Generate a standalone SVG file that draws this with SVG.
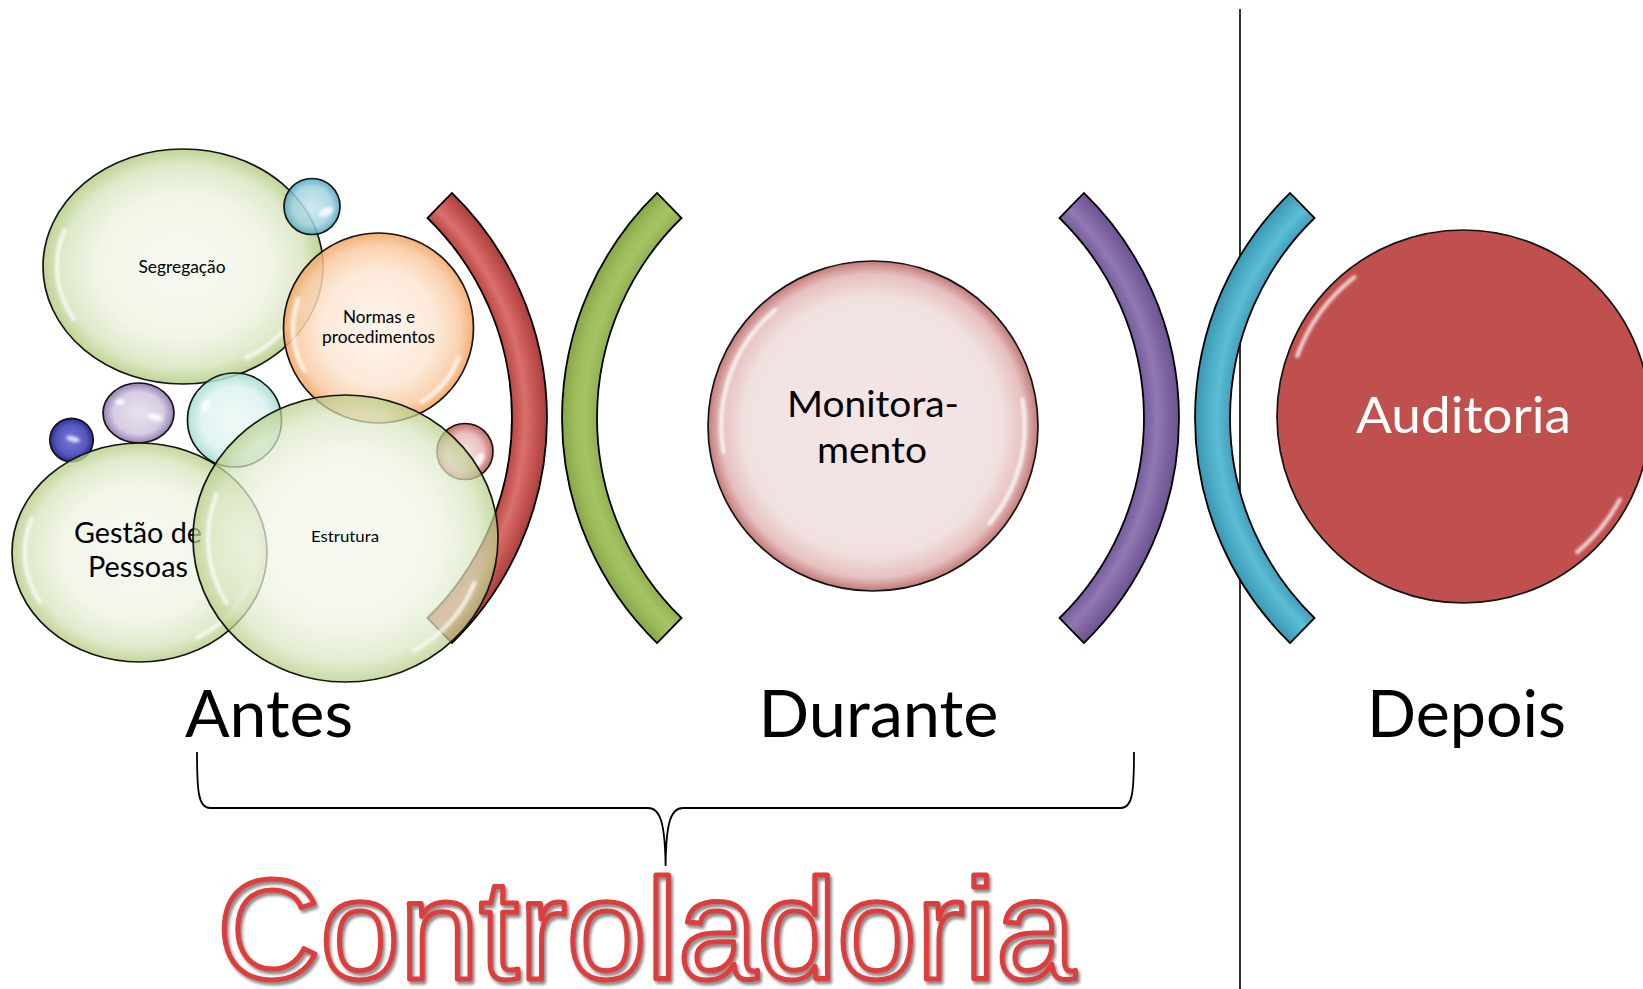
<svg xmlns="http://www.w3.org/2000/svg" width="1643" height="989" viewBox="0 0 1643 989">
<defs>
<style>
.bub{stroke:#141414;stroke-width:1.7}
.hl{fill:none;stroke:#fff;stroke-width:4;stroke-linecap:round;opacity:.8;filter:url(#blur)}
.spot{fill:#fff;opacity:.85;filter:url(#blur)}
.lbl{font-family:Lato,"Open Sans",sans-serif;fill:#000;text-anchor:middle}
.arc{stroke:#000;stroke-width:1.8;stroke-linejoin:miter}
.big{font-size:65px}
</style>
<filter id="blur" x="-50%" y="-50%" width="200%" height="200%"><feGaussianBlur stdDeviation="1.4"/></filter>
<filter id="shadow" x="-5%" y="-5%" width="110%" height="120%"><feDropShadow dx="2" dy="3" stdDeviation="1.6" flood-color="#555" flood-opacity=".7"/></filter>
<radialGradient id="gGreen" cx=".5" cy=".5" r=".5">
<stop offset="0" stop-color="#f4f8ee"/><stop offset=".62" stop-color="#eef4e3"/><stop offset=".86" stop-color="#d9e6c0"/><stop offset="1" stop-color="#b5cc82"/>
</radialGradient>
<radialGradient id="gOrange" cx=".5" cy=".5" r=".5">
<stop offset="0" stop-color="#fdf3ea"/><stop offset=".6" stop-color="#fde6d3"/><stop offset=".86" stop-color="#f9caa1"/><stop offset="1" stop-color="#f2a25f"/>
</radialGradient>
<radialGradient id="gPink" cx=".5" cy=".5" r=".5">
<stop offset="0" stop-color="#f4e6e6"/><stop offset=".78" stop-color="#f2e1e1"/><stop offset=".92" stop-color="#e6c0bf"/><stop offset="1" stop-color="#c27a77"/>
</radialGradient>
<radialGradient id="gTealB" cx=".5" cy=".5" r=".5">
<stop offset="0" stop-color="#c9e6ee"/><stop offset=".7" stop-color="#9fd1e0"/><stop offset="1" stop-color="#4ea6bf"/>
</radialGradient>
<radialGradient id="gPurple" cx=".5" cy=".5" r=".5">
<stop offset="0" stop-color="#e6e0ee"/><stop offset=".7" stop-color="#d2c7e0"/><stop offset="1" stop-color="#8c72ad"/>
</radialGradient>
<radialGradient id="gBlue" cx=".5" cy=".5" r=".5">
<stop offset="0" stop-color="#7a7ad8"/><stop offset=".7" stop-color="#5656c0"/><stop offset="1" stop-color="#2c2c8e"/>
</radialGradient>
<radialGradient id="gAqua" cx=".5" cy=".5" r=".5">
<stop offset="0" stop-color="#eef9f7"/><stop offset=".7" stop-color="#dcf3ef"/><stop offset="1" stop-color="#a2dccf"/>
</radialGradient>
<radialGradient id="gRedS" cx=".5" cy=".5" r=".5">
<stop offset="0" stop-color="#f3dfde"/><stop offset=".65" stop-color="#e4b4b2"/><stop offset="1" stop-color="#b9504c"/>
</radialGradient>
<radialGradient id="aRed" gradientUnits="userSpaceOnUse" cx="233" cy="418" r="314">
<stop offset=".885" stop-color="#b8433f"/><stop offset=".93" stop-color="#d8716d"/><stop offset=".965" stop-color="#c65551"/><stop offset="1" stop-color="#a8403c"/>
</radialGradient>
<radialGradient id="aGreen" gradientUnits="userSpaceOnUse" cx="876" cy="418" r="314">
<stop offset=".885" stop-color="#8fb04e"/><stop offset=".93" stop-color="#a6c465"/><stop offset=".965" stop-color="#9bbb59"/><stop offset="1" stop-color="#86a548"/>
</radialGradient>
<radialGradient id="aPurple" gradientUnits="userSpaceOnUse" cx="865" cy="418" r="314">
<stop offset=".885" stop-color="#73599a"/><stop offset=".93" stop-color="#9179b3"/><stop offset=".965" stop-color="#8064a2"/><stop offset="1" stop-color="#6c5390"/>
</radialGradient>
<radialGradient id="aTeal" gradientUnits="userSpaceOnUse" cx="1509" cy="418" r="314">
<stop offset=".885" stop-color="#3f9db8"/><stop offset=".93" stop-color="#5cbdd5"/><stop offset=".965" stop-color="#4bacc6"/><stop offset="1" stop-color="#3b96b0"/>
</radialGradient>
</defs>
<rect width="1643" height="989" fill="#fff"/>

<g id="connectors" fill="none" stroke="#000">
<line x1="1240" y1="9" x2="1240" y2="989" stroke-width="1.6"/>
<path d="M197,752 C197,790 198,808 210,808 L648,808 C660,808 665,822 665.6,866 C666,822 671,808 683,808 L1121,808 C1133,808 1134,790 1134,752" stroke-width="1.8"/>
</g>

<g id="arc-red"><path class="arc" fill="url(#aRed)" d="M451.9,192.9 A314,314 0 0 1 451.9,643.1 L427.5,618 A279,279 0 0 0 427.5,218 Z"/></g>
<g id="arc-green"><path class="arc" fill="url(#aGreen)" d="M657.1,192.9 A314,314 0 0 0 657.1,643.1 L681.5,618 A279,279 0 0 1 681.5,218 Z"/></g>
<g id="arc-purple"><path class="arc" fill="url(#aPurple)" d="M1083.9,192.9 A314,314 0 0 1 1083.9,643.1 L1059.5,618 A279,279 0 0 0 1059.5,218 Z"/></g>
<g id="arc-teal"><path class="arc" fill="url(#aTeal)" d="M1290.1,192.9 A314,314 0 0 0 1290.1,643.1 L1314.5,618 A279,279 0 0 1 1314.5,218 Z"/></g>

<g id="segregacao">
<ellipse class="bub" cx="183" cy="266.5" rx="140" ry="117.5" fill="url(#gGreen)" fill-opacity=".85"/>
<path class="hl" d="M64.6,230.3 A126,105.75 0 0 0 73.9,319.4"/>
<path class="hl" d="M301.4,302.7 A126,105.75 0 0 1 246,358.1"/>
<text class="lbl" x="182" y="273" font-size="16.7" textLength="87" lengthAdjust="spacingAndGlyphs">Segregação</text>
</g>
<g id="bubble-teal">
<circle class="bub" cx="312" cy="206.5" r="28" fill="url(#gTealB)" fill-opacity=".85"/>
<ellipse class="spot" cx="326" cy="212" rx="8" ry="4" transform="rotate(-25 326 212)"/>
</g>
<g id="normas">
<circle class="bub" cx="378.5" cy="328" r="95" fill="url(#gOrange)" fill-opacity=".85"/>
<path class="hl" d="M298.2,298.8 A85.5,85.5 0 0 0 304.5,370.8"/>
<path class="hl" d="M458.8,357.2 A85.5,85.5 0 0 1 421.3,402"/>
<text class="lbl" x="379" y="323" font-size="16.7" textLength="72" lengthAdjust="spacingAndGlyphs">Normas e</text>
<text class="lbl" x="378.5" y="343" font-size="16.7" textLength="113" lengthAdjust="spacingAndGlyphs">procedimentos</text>
</g>
<g id="bubble-purple">
<ellipse class="bub" cx="138.5" cy="413" rx="35.5" ry="30" fill="url(#gPurple)" fill-opacity=".9"/>
<ellipse class="spot" cx="155" cy="417" rx="8" ry="3.5" transform="rotate(15 155 417)"/>
<ellipse class="spot" cx="120" cy="402" rx="5" ry="3"/>
</g>
<g id="bubble-blue">
<circle class="bub" cx="71.5" cy="440" r="21.7" fill="url(#gBlue)"/>
<ellipse class="spot" cx="73" cy="439" rx="7" ry="2.5" transform="rotate(15 73 439)"/>
</g>
<g id="bubble-aqua">
<circle class="bub" cx="234.5" cy="420" r="47" fill="url(#gAqua)" fill-opacity=".85"/>
<ellipse class="spot" cx="206" cy="406" rx="4" ry="7" transform="rotate(25 206 406)"/>
</g>
<g id="bubble-red">
<circle class="bub" cx="465" cy="451.5" r="28" fill="url(#gRedS)" fill-opacity=".85"/>
<ellipse class="spot" cx="479" cy="460" rx="4" ry="8" transform="rotate(30 479 460)"/>
</g>
<g id="gestao">
<ellipse class="bub" cx="139.5" cy="552.5" rx="127.5" ry="109.5" fill="url(#gGreen)" fill-opacity=".8"/>
<path class="hl" d="M31.7,518.8 A114.75,98.55 0 0 0 40.1,601.8"/>
<path class="hl" d="M247.3,586.2 A114.75,98.55 0 0 1 196.9,637.8"/>
<text class="lbl" x="138" y="543" font-size="28" textLength="128" lengthAdjust="spacingAndGlyphs">Gestão de</text>
<text class="lbl" x="138" y="577" font-size="28" textLength="100" lengthAdjust="spacingAndGlyphs">Pessoas</text>
</g>
<g id="estrutura">
<ellipse class="bub" cx="345.5" cy="538.5" rx="152.5" ry="143.5" fill="url(#gGreen)" fill-opacity=".72"/>
<path class="hl" d="M216.5,494.3 A137.25,129.15 0 0 0 226.6,603.1"/>
<path class="hl" d="M474.5,582.7 A137.25,129.15 0 0 1 414.1,650.3"/>
<text class="lbl" x="345" y="542" font-size="16.2" textLength="68" lengthAdjust="spacingAndGlyphs">Estrutura</text>
</g>

<g id="monitoramento">
<circle class="bub" cx="873" cy="426" r="165" fill="url(#gPink)"/>
<path class="hl" d="M775.4,309.7 A151.8,151.8 0 0 0 723.5,452.4"/>
<path class="hl" d="M1022.5,399.6 A151.8,151.8 0 0 1 989.3,523.6"/>
<text class="lbl" x="873" y="417" font-size="37.5" textLength="172" lengthAdjust="spacingAndGlyphs">Monitora-</text>
<text class="lbl" x="872" y="463" font-size="37.5" textLength="110" lengthAdjust="spacingAndGlyphs">mento</text>
</g>

<g id="auditoria">
<circle class="bub" cx="1463.5" cy="416.5" r="186.5" fill="#c0504d"/>
<path class="hl" d="M1297.2,356 A177,177 0 0 1 1354.5,277"/>
<path class="hl" d="M1619.8,499.6 A177,177 0 0 1 1577.3,552.1"/>
<text class="lbl" x="1463.5" y="433" font-size="51" fill="#fff" style="fill:#fff" textLength="215" lengthAdjust="spacingAndGlyphs">Auditoria</text>
</g>

<g id="labels">
<text class="lbl big" x="269" y="737" textLength="168" lengthAdjust="spacingAndGlyphs">Antes</text>
<text class="lbl big" x="878.5" y="737" textLength="240" lengthAdjust="spacingAndGlyphs">Durante</text>
<text class="lbl big" x="1466.5" y="737" textLength="199" lengthAdjust="spacingAndGlyphs">Depois</text>
</g>

<g id="controladoria" font-family="'Liberation Sans',Arial,sans-serif" font-size="143">
<text x="217" y="979" fill="#fff">Controladoria</text>
<text x="217" y="979" fill="none" stroke="#dc3d3d" stroke-width="5" stroke-linejoin="round" filter="url(#shadow)">Controladoria</text>
</g>
</svg>
